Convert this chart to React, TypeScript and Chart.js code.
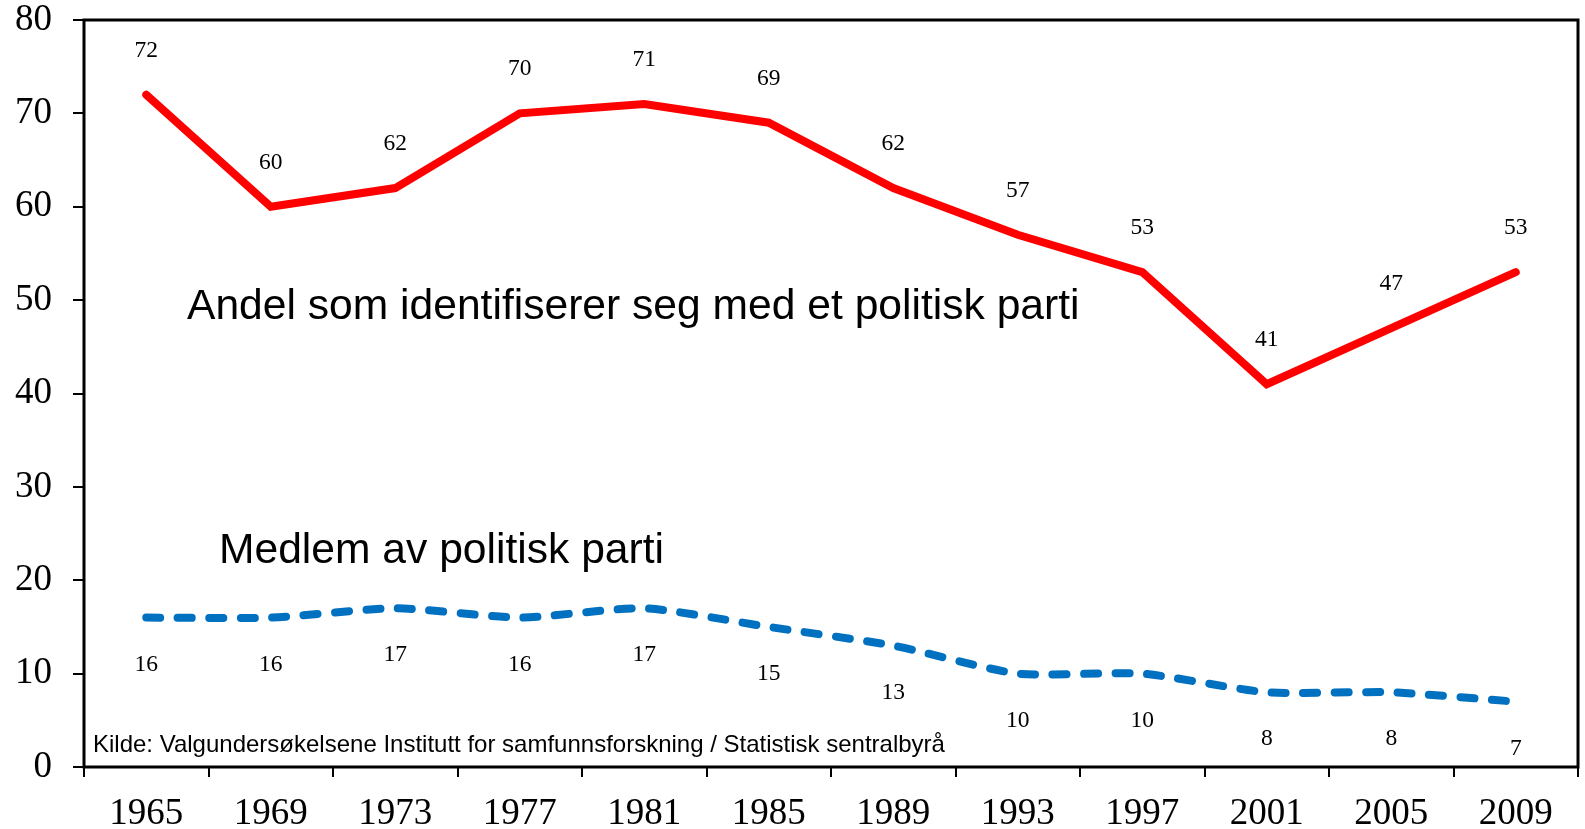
import React, { useEffect, useRef } from "react";
import { Chart, registerables } from "chart.js";

Chart.register(...registerables);

const years = ["1965", "1969", "1973", "1977", "1981", "1985", "1989", "1993", "1997", "2001", "2005", "2009"];
const identifiserer = [72, 60, 62, 70, 71, 69, 62, 57, 53, 41, 47, 53];
const medlem = [16, 16, 17, 16, 17, 15, 13, 10, 10, 8, 8, 7];

const noteIdent = "Andel som identifiserer seg med et politisk parti";
const noteMedlem = "Medlem av politisk parti";
const sourceText = "Kilde: Valgundersøkelsene Institutt for samfunnsforskning / Statistisk sentralbyrå";

const SERIF = '"Liberation Serif", "Times New Roman", serif';
const SANS = '"Liberation Sans", Arial, sans-serif';

const framePlugin = {
  id: "frame",
  afterDatasetsDraw(chart: any) {
    const { ctx, chartArea: a } = chart;
    ctx.save();
    ctx.strokeStyle = "#000";
    ctx.lineWidth = 3;
    ctx.strokeRect(a.left, a.top, a.right - a.left, a.bottom - a.top);
    ctx.restore();
  },
};

const labelOffsets = [-38, 53];

const dataLabelPlugin = {
  id: "dataLabels",
  afterDatasetsDraw(chart: any) {
    const ctx = chart.ctx;
    ctx.save();
    ctx.fillStyle = "#000";
    ctx.font = `23.5px ${SERIF}`;
    ctx.textAlign = "center";
    ctx.textBaseline = "alphabetic";
    chart.data.datasets.forEach((ds: any, i: number) => {
      const meta = chart.getDatasetMeta(i);
      meta.data.forEach((el: any, j: number) => {
        ctx.fillText(String(ds.data[j]), el.x, el.y + labelOffsets[i]);
      });
    });
    ctx.restore();
  },
};

const notesPlugin = {
  id: "notes",
  afterDraw(chart: any) {
    const { ctx, chartArea: a } = chart;
    const y = chart.scales.y;
    ctx.save();
    ctx.fillStyle = "#000";
    ctx.textAlign = "left";
    ctx.textBaseline = "alphabetic";
    ctx.font = `42.6px ${SANS}`;
    ctx.fillText(noteIdent, a.left + 103, y.getPixelForValue(48));
    ctx.font = `42.6px ${SANS}`;
    ctx.fillText(noteMedlem, a.left + 135, y.getPixelForValue(21.8));
    ctx.font = `24px ${SANS}`;
    ctx.fillText(sourceText, a.left + 9, y.getPixelForValue(1.6));
    ctx.restore();
  },
};

export default function App() {
  const ref = useRef<HTMLCanvasElement>(null);

  useEffect(() => {
    if (!ref.current) return;
    const chart = new Chart(ref.current, {
      type: "line",
      data: {
        labels: years,
        datasets: [
          {
            label: noteIdent,
            data: identifiserer,
            borderColor: "#FF0000",
            backgroundColor: "#FF0000",
            borderWidth: 8,
            borderCapStyle: "round",
            pointRadius: 0,
            tension: 0,
            fill: false,
          },
          {
            label: noteMedlem,
            data: medlem,
            borderColor: "#0070C0",
            backgroundColor: "#0070C0",
            borderWidth: 8,
            borderDash: [14, 17.5],
            borderCapStyle: "round",
            pointRadius: 0,
            tension: 0.2,
            fill: false,
          },
        ],
      },
      options: {
        responsive: false,
        animation: false,
        events: [],
        layout: { padding: { top: 0, right: 7, left: 0, bottom: 0 } },
        plugins: {
          legend: { display: false },
          tooltip: { enabled: false },
          title: { display: false },
        },
        scales: {
          x: {
            type: "category",
            offset: true,
            grid: {
              offset: true,
              drawOnChartArea: false,
              drawTicks: true,
              tickLength: 10,
              color: "#000",
              lineWidth: 2,
            },
            border: { display: false },
            ticks: {
              color: "#000",
              font: { family: SERIF, size: 37 },
              padding: 15,
              maxRotation: 0,
              autoSkip: false,
            },
            afterFit(s: any) {
              s.height = 62;
              s.paddingLeft = 0;
              s.paddingRight = 0;
            },
          },
          y: {
            min: 0,
            max: 80,
            grid: {
              drawOnChartArea: false,
              drawTicks: true,
              tickLength: 11,
              color: "#000",
              lineWidth: 2,
            },
            border: { display: false },
            ticks: {
              stepSize: 10,
              color: "#000",
              font: { family: SERIF, size: 37 },
              padding: 21,
            },
            afterFit(s: any) {
              s.width = 84;
              s.paddingTop = 20;
              s.paddingBottom = 0;
            },
          },
        },
      },
      plugins: [framePlugin, dataLabelPlugin, notesPlugin],
    });
    return () => chart.destroy();
  }, []);

  return (
    <div style={{ position: "fixed", left: 0, top: 0, width: 1585, height: 829, background: "#fff" }}>
      <canvas ref={ref} width={1585} height={829} style={{ display: "block", width: 1585, height: 829 }} />
    </div>
  );
}
